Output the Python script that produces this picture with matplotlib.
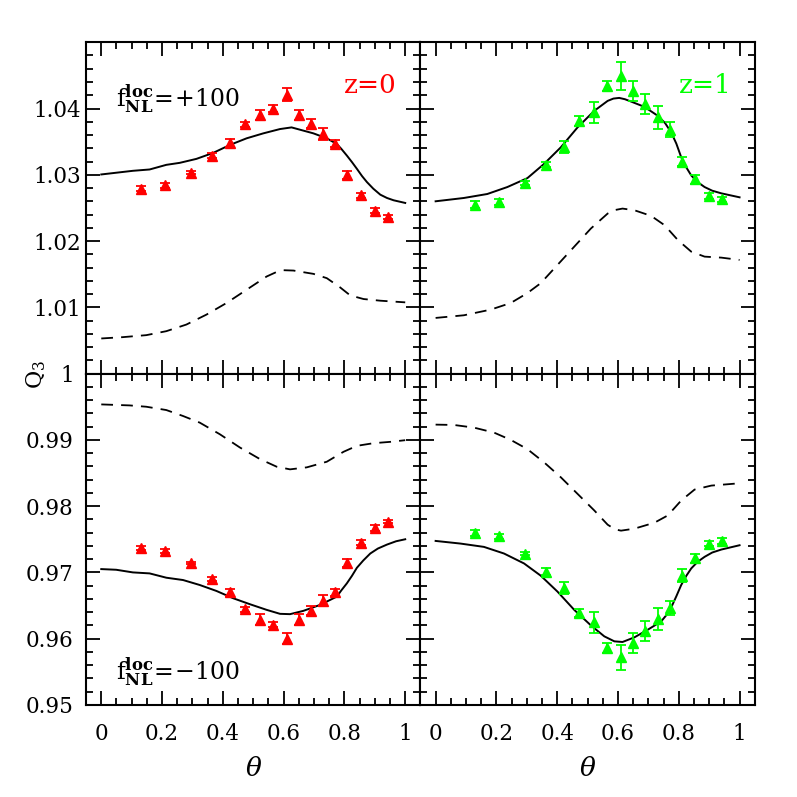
import matplotlib
matplotlib.use('Agg')
import matplotlib.pyplot as plt
from matplotlib.ticker import MultipleLocator, FixedLocator, FixedFormatter

# bispectrum Q3 vs theta, two redshifts, fNL = +100 / -100
theta_pts = [0.13, 0.21, 0.295, 0.363, 0.422, 0.472, 0.521, 0.565, 0.61,
             0.65, 0.69, 0.731, 0.77, 0.809, 0.854, 0.9, 0.943]

# top left: fNL=+100, z=0
q_p_z0 = [1.0279, 1.0284, 1.0303, 1.0329, 1.0348, 1.0376, 1.0390, 1.0400, 1.0421,
          1.0390, 1.0377, 1.0361, 1.0347, 1.0300, 1.0269, 1.0246, 1.0237]
e_p_z0 = [0.0004, 0.0004, 0.0002, 0.0004, 0.0006, 0.0004, 0.0008, 0.0005, 0.0010,
          0.0007, 0.0007, 0.0009, 0.0005, 0.0006, 0.0004, 0.0004, 0.0003]
# top right: fNL=+100, z=1
q_p_z1 = [1.0255, 1.0259, 1.02875, 1.0315, 1.03415, 1.0381, 1.0394, 1.0434, 1.0449,
          1.04265, 1.04065, 1.03865, 1.0368, 1.0320, 1.0293, 1.0268, 1.0263]
e_p_z1 = [0.0005, 0.0004, 0.0003, 0.0004, 0.0009, 0.0007, 0.0016, 0.0007, 0.0021,
          0.0015, 0.0015, 0.0017, 0.0011, 0.0007, 0.0007, 0.0004, 0.0004]
# bottom left: fNL=-100, z=0
q_m_z0 = [0.9737, 0.9732, 0.9714, 0.9690, 0.9670, 0.96445, 0.96285, 0.9621, 0.9600,
          0.96285, 0.9642, 0.96575, 0.9670, 0.9714, 0.9745, 0.9767, 0.97765]
e_m_z0 = [0.0003, 0.0003, 0.0002, 0.0003, 0.0005, 0.0004, 0.0008, 0.0004, 0.0008,
          0.0008, 0.0007, 0.0008, 0.0005, 0.0006, 0.0004, 0.0004, 0.0002]
# bottom right: fNL=-100, z=1
q_m_z1 = [0.97595, 0.97545, 0.97285, 0.9701, 0.9677, 0.96385, 0.9625, 0.9586, 0.9572,
          0.95935, 0.9612, 0.9630, 0.9646, 0.9695, 0.9721, 0.97435, 0.97475]
e_m_z1 = [0.0004, 0.0004, 0.0002, 0.0005, 0.0009, 0.0006, 0.0016, 0.0008, 0.0019,
          0.0015, 0.0015, 0.0017, 0.0011, 0.0010, 0.0007, 0.0004, 0.0004]

# model curves (solid = full, dashed = primordial part)
t_sol_p_z0 = [0, 0.104, 0.159, 0.214, 0.258, 0.313, 0.368, 0.423, 0.478, 0.533, 0.588,
              0.626, 0.654, 0.698, 0.742, 0.775, 0.79, 0.808, 0.825, 0.841, 0.858,
              0.874, 0.895, 0.918, 0.94, 0.962, 1.0]
sol_p_z0 = [1.03005, 1.0306, 1.0308, 1.0315, 1.0318, 1.0324, 1.0333, 1.0345, 1.0355,
            1.03625, 1.0369, 1.03715, 1.0368, 1.03625, 1.0355, 1.03465, 1.0339, 1.0329,
            1.0319, 1.0309, 1.0298, 1.0289, 1.0279, 1.0270, 1.0265, 1.02615, 1.02575]
t_das_p_z0 = [0, 0.071, 0.148, 0.214, 0.280, 0.346, 0.412, 0.478, 0.544, 0.575, 0.599,
              0.632, 0.698, 0.742, 0.786, 0.819, 0.863, 0.918, 1.0]
das_p_z0 = [1.0053, 1.0055, 1.0058, 1.0064, 1.0074, 1.0089, 1.01065, 1.01265, 1.01465,
            1.0153, 1.0156, 1.01555, 1.01505, 1.0144, 1.0130, 1.0118, 1.01125, 1.0110,
            1.01075]

t_sol_p_z1 = [0, 0.093, 0.170, 0.236, 0.302, 0.357, 0.412, 0.467, 0.522, 0.566, 0.585,
              0.604, 0.623, 0.643, 0.687, 0.731, 0.755, 0.775, 0.792, 0.808, 0.825,
              0.841, 0.862, 0.885, 0.910, 0.940, 1.0]
sol_p_z1 = [1.0260, 1.0265, 1.0271, 1.02815, 1.0295, 1.03165, 1.03415, 1.03715, 1.03965,
            1.04115, 1.0415, 1.0416, 1.0414, 1.04105, 1.04025, 1.0389, 1.0378, 1.0364,
            1.0347, 1.03265, 1.0311, 1.0299, 1.0289, 1.02815, 1.0276, 1.0272, 1.0266]
t_das_p_z1 = [0, 0.093, 0.181, 0.247, 0.302, 0.346, 0.401, 0.456, 0.511, 0.566, 0.592,
              0.615, 0.654, 0.709, 0.753, 0.797, 0.841, 0.885, 0.940, 1.0]
das_p_z1 = [1.0084, 1.0088, 1.00965, 1.01065, 1.01215, 1.01365, 1.0164, 1.01915, 1.0219,
            1.02415, 1.0247, 1.0249, 1.02465, 1.0238, 1.0224, 1.02015, 1.0184, 1.01765,
            1.0175, 1.01715]

t_sol_m_z0 = [0, 0.049, 0.104, 0.159, 0.214, 0.269, 0.324, 0.379, 0.434, 0.489, 0.544,
              0.588, 0.621, 0.665, 0.720, 0.775, 0.79, 0.808, 0.825, 0.841, 0.862,
              0.885, 0.910, 0.940, 0.970, 1.0]
sol_m_z0 = [0.9705, 0.9704, 0.9700, 0.96985, 0.9692, 0.96885, 0.9681, 0.9672, 0.9661,
            0.9652, 0.96435, 0.96375, 0.9637, 0.9642, 0.9651, 0.96635, 0.9673, 0.96835,
            0.9695, 0.9707, 0.9718, 0.97285, 0.9736, 0.9742, 0.9747, 0.9750]
t_das_m_z0 = [0, 0.093, 0.148, 0.214, 0.269, 0.324, 0.390, 0.456, 0.522, 0.577, 0.621,
              0.676, 0.742, 0.797, 0.841, 0.896, 0.951, 1.0]
das_m_z0 = [0.99535, 0.9952, 0.9950, 0.9945, 0.9936, 0.9926, 0.99085, 0.98885, 0.9871,
            0.98595, 0.98555, 0.98585, 0.9867, 0.9882, 0.9891, 0.9895, 0.9897, 0.98995]

t_sol_m_z1 = [0, 0.082, 0.159, 0.225, 0.291, 0.346, 0.401, 0.456, 0.511, 0.555, 0.588,
              0.615, 0.654, 0.698, 0.742, 0.760, 0.775, 0.792, 0.808, 0.825, 0.841,
              0.862, 0.885, 0.910, 0.940, 1.0]
sol_m_z1 = [0.97475, 0.97435, 0.97385, 0.97285, 0.97135, 0.9695, 0.9671, 0.96435, 0.9620,
            0.96035, 0.9596, 0.9595, 0.9602, 0.96135, 0.9626, 0.9636, 0.9647, 0.9664,
            0.9681, 0.9695, 0.9706, 0.9716, 0.97235, 0.9730, 0.97345, 0.9741]
t_das_m_z1 = [0, 0.060, 0.126, 0.192, 0.247, 0.302, 0.357, 0.412, 0.467, 0.522, 0.566,
              0.590, 0.610, 0.654, 0.720, 0.764, 0.808, 0.852, 0.907, 1.0]
das_m_z1 = [0.9923, 0.99225, 0.99185, 0.9911, 0.9900, 0.9886, 0.9866, 0.98435, 0.98185,
            0.97935, 0.9772, 0.9765, 0.9763, 0.9766, 0.9775, 0.9786, 0.98085, 0.9825,
            0.9831, 0.98345]

xtick_vals = [0, 0.2, 0.4, 0.6, 0.8, 1.0]
xtick_labels = ['0', '0.2', '0.4', '0.6', '0.8', '1']
ytick_top = [1.01, 1.02, 1.03, 1.04]
ytick_top_labels = ['1.01', '1.02', '1.03', '1.04']
ytick_bot = [0.95, 0.96, 0.97, 0.98, 0.99, 1.0]
ytick_bot_labels = ['0.95', '0.96', '0.97', '0.98', '0.99', '1']

plt.rcParams['font.family'] = 'DejaVu Serif'
plt.rcParams['mathtext.fontset'] = 'dejavuserif'

dpi = 100
fig = plt.figure(dpi=dpi, figsize=(797 / dpi, 797 / dpi))
L, R, B, T = 0.108, 0.947, 0.1155, 0.947
W = (R - L) / 2
H = (T - B) / 2
ax_tl = fig.add_axes([L, B + H, W, H])
ax_tr = fig.add_axes([L + W, B + H, W, H])
ax_bl = fig.add_axes([L, B, W, H])
ax_br = fig.add_axes([L + W, B, W, H])

panels = [
    (ax_tl, q_p_z0, e_p_z0, 'red', t_sol_p_z0, sol_p_z0, t_das_p_z0, das_p_z0, (1.0, 1.05)),
    (ax_tr, q_p_z1, e_p_z1, '#00ff00', t_sol_p_z1, sol_p_z1, t_das_p_z1, das_p_z1, (1.0, 1.05)),
    (ax_bl, q_m_z0, e_m_z0, 'red', t_sol_m_z0, sol_m_z0, t_das_m_z0, das_m_z0, (0.95, 1.0)),
    (ax_br, q_m_z1, e_m_z1, '#00ff00', t_sol_m_z1, sol_m_z1, t_das_m_z1, das_m_z1, (0.95, 1.0)),
]

for ax, q, e, col, ts, s, td, d, ylim in panels:
    ax.plot(ts, s, color='black', lw=1.4, solid_joinstyle='round')
    ax.plot(td, d, color='black', lw=1.3, linestyle=(0, (6.5, 4.5)))
    ax.errorbar(theta_pts, q, yerr=e, fmt='^', color=col, ms=7.5,
                capsize=3.5, elinewidth=1.3, capthick=1.3)
    ax.set_xlim(-0.05, 1.05)
    ax.set_ylim(*ylim)
    ax.xaxis.set_major_locator(FixedLocator(xtick_vals))
    ax.xaxis.set_minor_locator(MultipleLocator(0.05))
    ax.yaxis.set_major_locator(MultipleLocator(0.01))
    ax.yaxis.set_minor_locator(MultipleLocator(0.002))
    ax.tick_params(which='both', direction='in', top=True, right=True,
                   labelsize=15.5, width=1.3)
    ax.tick_params(which='major', length=10)
    ax.tick_params(which='minor', length=5)
    for sp in ax.spines.values():
        sp.set_linewidth(1.5)

for ax in (ax_tl, ax_tr):
    ax.tick_params(labelbottom=False)
for ax in (ax_tr, ax_br):
    ax.tick_params(labelleft=False)

ax_tl.yaxis.set_major_locator(FixedLocator(ytick_top))
ax_tl.yaxis.set_major_formatter(FixedFormatter(ytick_top_labels))
ax_bl.yaxis.set_major_locator(FixedLocator(ytick_bot))
ax_bl.yaxis.set_major_formatter(FixedFormatter(ytick_bot_labels))
ax_tr.yaxis.set_major_locator(FixedLocator(ytick_top + [1.0]))
ax_br.yaxis.set_major_locator(FixedLocator(ytick_bot))
for ax in (ax_bl, ax_br):
    ax.xaxis.set_major_formatter(FixedFormatter(xtick_labels))
    ax.tick_params(axis='x', pad=13)
    ax.set_xlabel(r'$\theta$', fontsize=19, labelpad=8)
ax_bl.tick_params(axis='y', pad=9)

fig.text(0.045, 0.53, r'Q$_3$', rotation=90, fontsize=16, ha='center', va='center')

ax_tl.text(0.09, 0.83, r'$\mathrm{f}^{\mathbf{loc}}_{\mathbf{NL}}\!=\!{+}100$',
           transform=ax_tl.transAxes, fontsize=17, ha='left', va='center')
ax_bl.text(0.09, 0.1, r'$\mathrm{f}^{\mathbf{loc}}_{\mathbf{NL}}\!=\!{-}100$',
           transform=ax_bl.transAxes, fontsize=17, ha='left', va='center')
ax_tl.text(0.93, 0.87, 'z=0', transform=ax_tl.transAxes, fontsize=19,
           color='red', ha='right', va='center')
ax_tr.text(0.93, 0.87, 'z=1', transform=ax_tr.transAxes, fontsize=19,
           color='#00ff00', ha='right', va='center')

fig.savefig('out.png', dpi=dpi)
